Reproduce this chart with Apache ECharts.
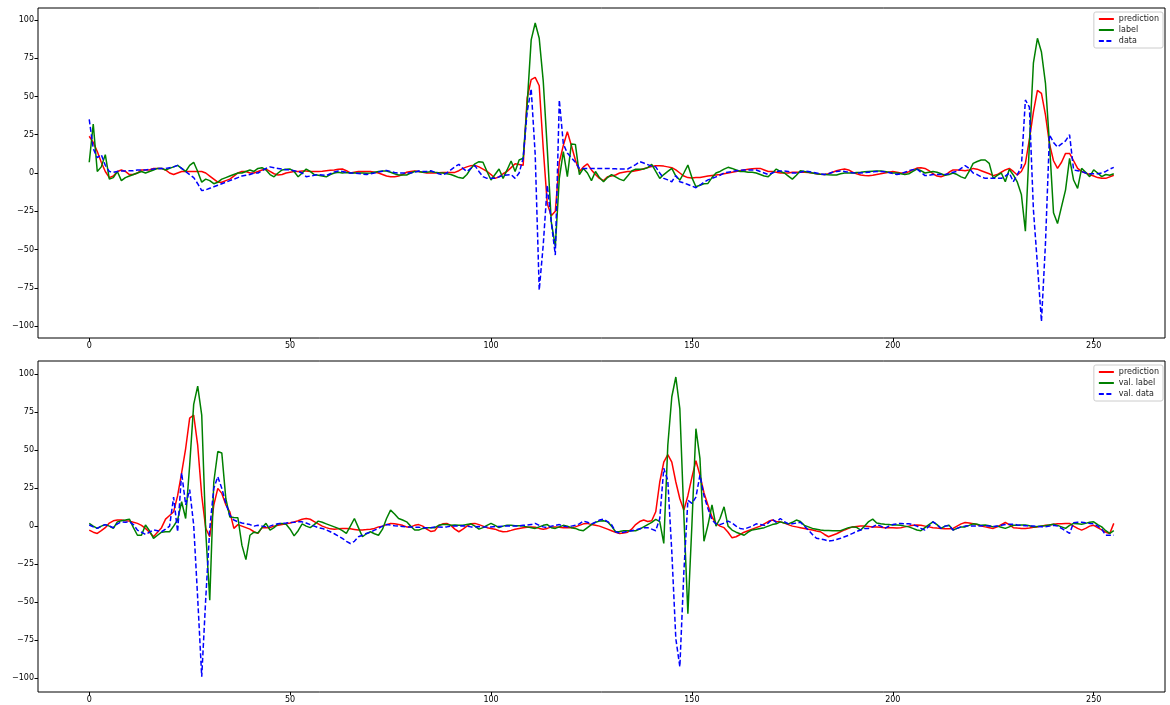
<!DOCTYPE html>
<html>
<head>
<meta charset="utf-8">
<script src="https://cdn.jsdelivr.net/npm/echarts@6/dist/echarts.min.js"></script>
<style>
  html, body { margin: 0; padding: 0; background: #fff; }
  #chart { width: 1170px; height: 705px; }
</style>
</head>
<body>
<div id="chart"></div>
<script>
// 训练集 (上图)
var topPred = [
  24, 20, 14, 7, 1, -3, -2, 1, 2, 1,
  -1, -1, 0, 2, 2, 2, 3, 3, 3, 2,
  0, -1, 0, 1, 1, 1, 1, 1, 1, 0,
  -2, -4, -6, -6, -5, -4, -2, 0, 1, 1,
  0, 0, 1, 2, 2.5, 1, -0.5, -1.3, -1, 0,
  0.5, 1, 1, 1.3, 1.3, 1, 1, 1, 1.2, 1.5,
  1.8, 2, 2.5, 2.6, 1.5, 0, 0.5, 1, 1, 1,
  1, 0.5, 0, -1, -2, -2.5, -2.5, -2, -1, 0.5,
  1, 1.3, 1, 0.5, 0, 0, 0, 0.2, 0.4, 0.4,
  0.4, 0.4, 1.5, 3, 4, 4.8, 5, 4, 2.5, 1,
  -1, -3.5, -2.5, -0.5, 1, 3.5, 6, 5.5, 5, 49,
  61, 62.5, 57, 16, -20, -28, -25, 7, 18, 27,
  18, 8.5, 1, 4, 6, 2, -1, -3.5, -5, -2.4,
  -2, -1.3, 0, 0.5, 1, 1, 1.5, 2, 2.8, 3.5,
  4.2, 4.8, 4.8, 4.5, 4, 3.5, 2, 0, -2, -3,
  -3.2, -3, -3, -2.5, -2, -1.6, -1.3, -1, -0.5, 0,
  0.5, 1, 1.5, 2, 2.5, 2.8, 3, 3, 2, 1,
  1, 0.5, 0, 0, 0, 0.5, 0.5, 0.5, 0.5, 0.3,
  0, -0.5, -0.8, -1, -0.5, 0.5, 1.5, 2.2, 2.6, 2,
  0.5, -0.5, -1.3, -1.7, -1.8, -1.5, -1, -0.5, 0, 0.5,
  1, 0.5, 0, 0, 0.8, 2, 3.2, 3.5, 3, 1.5,
  -0.5, -2, -2.4, -1.5, 0.5, 2, 2, 1.8, 1.5, 2,
  3, 2.5, 1.5, 0.5, -0.5, -1.7, -1, 0.5, 2, 3,
  1, -1.3, 1, 6.3, 22, 40, 54, 52, 38, 19,
  8, 3, 7, 12.8, 12.8, 8, 3, 1, 0, -1,
  -2, -3, -3.5, -3.5, -2.5, -1.5
];
var topLabel = [
  7, 32, 1, 4, 12, -4, -3, 1, -5, -3,
  -2, -1, 0, 1, 0, 1, 2, 3, 3, 2,
  3, 4, 5, 3, 1, 5, 7, 1, -6, -4,
  -5, -7, -6, -4, -3, -2, -1, 0, 0, 1,
  2, 1, 3, 3.5, 2, -1, -2.5, 0, 2, 2.5,
  2.6, 1, -2.5, 0, 2.6, 1, -1, -1.5, -2, -2.5,
  -1, 0, 0.5, 0, 0.3, 0, 0, 0, 0, -0.2,
  0, 0.5, 1, 1.3, 1.3, 0.5, -0.5, -1.3, -1.3, -1.3,
  0, 1, 1, 0.5, 0.5, 0.9, 0.5, 0.2, 0, -0.5,
  -1, -2, -3, -3.5, -1, 3, 6, 7.4, 7, 1,
  -4.6, -1, 2.6, -3.5, 2, 7.8, 1, 8.5, 9.6, 45,
  87, 98, 88, 60, 16, -32, -48, -3.5, 14, -2.4,
  19, 18.7, -1, 3, 0, -5, 1, -3, -5.7, -3,
  -1, -2.5, -4, -5, -2, 1.3, 2.5, 2.5, 2.6, 3.5,
  5.7, 1, -3.5, -1, 1, 3, -2, -4.6, 0, 5.2,
  -3, -9, -8, -7, -6.8, -3, 0, 1, 2.5, 3.7,
  3, 2, 1, 1, 0.5, 0.5, 0, -1, -2, -2.4,
  0, 2.6, 1, 0, -2, -4, -1.5, 1.5, 1, 0.5,
  0, -0.5, -0.8, -1, -1.2, -1.3, -1.3, -0.5, 0, 0,
  0, 0.3, 0.5, 0.8, 1, 1.2, 1.3, 1.3, 1, 0.5,
  0, 0, -0.5, -1, -0.5, 1, 2.6, 1.5, 0, 0.5,
  1, 0.5, -0.5, -1.5, -1, 0, -1, -2.5, -3.5, 1,
  6.3, 7.5, 8.5, 8.5, 6.3, -3.5, -1.5, 0, -5.7, 2.4,
  -1.3, -6, -14, -38, 19, 72, 88, 79, 58.6, 19,
  -26, -33, -22, -11, 9.6, -4.6, -10, 3, 0.5, -2.4,
  2, 0, -2.4, -1, -1.5, -0.5
];
var topData = [
  35, 16, 10, 12, 5, 1, 0.5, 1, 1.3, 1.3,
  1.5, 1.5, 2, 2, 2, 2.3, 2.6, 3, 3, 3,
  3.5, 4, 5, 3, 1, -1, -3, -7, -11.5, -11,
  -10, -9, -8, -7, -6, -5, -4, -3, -2, -1.5,
  -1, 0, 0, 1.5, 3, 4, 3.5, 3, 2.5, 2.2,
  2, 1.5, 1, 0, -2.4, -2, -1.5, -1, -1.3, -1.7,
  -0.5, 0.7, 1.3, 1, 0.5, 0, 0, -0.3, -0.7, -1,
  -0.5, 0, 0.7, 1.2, 1.7, 1, 0.3, 0, 0, 0,
  0, 0.5, 1.3, 1, 1, 1.5, 0.5, -0.5, -1.3, 0,
  2, 4, 5.7, 3, 1, 3, 4.8, 1, -2.4, -3.5,
  -3.5, -3.5, -2.5, -1.7, -1.3, -1, -3.5, 0, 9.6, 40,
  55, 12, -76.5, -47, -8, -32, -53.6, 47.7, 19, 13,
  10, 7, 3, 3, 3, 3, 3, 3, 3, 3,
  2.8, 2.7, 2.6, 2.6, 2.6, 4, 5.5, 7.4, 6.5, 5.5,
  4.5, 4, 0, -3.5, -4.5, -5.7, -1.7, -5.7, -6.5, -7.5,
  -8.5, -9.6, -8, -6, -4.5, -3.5, -2.5, -1.5, 0, 0.5,
  1, 1.5, 1.8, 2, 2, 2, 2, 1, 0, -1,
  0, 1, 1.3, 1.3, 1, 0, 0, 0.5, 1.3, 1,
  0.5, 0, -0.5, -1, -0.5, 0.5, 1, 1.3, 1, 0.5,
  0.2, 0, 0, 0.2, 0.5, 0.8, 1, 1, 0.8, 0.3,
  -0.3, -1, -0.5, 0.5, 1.5, 2.2, 2.6, 0.5, -1.7, -1.5,
  -1, -1, -1, -1, -0.5, 0.5, 1, 3, 4.8, 3,
  0, -1, -2.5, -3.5, -3.5, -3.5, -3.5, -3.5, -2, 0,
  -5.7, -1, 4, 47.7, 43, -24, -60, -97, -46, 25,
  20, 17, 19, 21, 25, 2, 1.5, 1, 0, -0.5,
  -0.5, -0.5, 0, 1, 2.5, 3.7
];

// 验证集 (下图)
var botPred = [
  -2.6, -4, -4.8, -3, -1, 2, 3.5, 4, 4, 3.5,
  3.3, 2.5, 1.8, 0.5, -1.5, -4, -7, -4, -1, 4.6,
  7, 9.4, 20, 35, 51, 71, 73, 53, 20, -1.5,
  -7, 13.8, 24.8, 21.5, 14, 9.4, -1.5, 1, 0, -1,
  -2, -3.7, -4.8, -1, -1, -1, 0, 0.5, 1, 1.5,
  2, 2.8, 3.5, 4.5, 5, 4.5, 3, 1.5, 0, -1,
  -1.8, -2, -1.8, -1.5, -1.5, -1.8, -2.2, -2.6, -2.5, -2.3,
  -2, -1.5, -0.5, 0, 1, 1.8, 1.5, 1, 0.5, -0.5,
  -0.5, 0.5, 1, 0, -2, -3.5, -3, 0.5, 1.5, 1.8,
  0.5, -2, -3.7, -2, 0, 1.5, 1.8, 1, 0, -1,
  -1.5, -2, -3, -3.7, -3.5, -2.8, -2, -1.5, -1, -0.8,
  -0.5, -0.7, -1.5, -2, -1.5, -0.5, -0.5, -0.7, -1, -1,
  -1, -0.5, 0.5, 1.5, 1.8, 1, 0.5, 0, -1, -2,
  -3, -4, -4.8, -4.5, -4, -2, 1, 3, 4, 3,
  3.5, 9.4, 29, 42, 47, 42, 29, 18, 10.5, 20,
  32, 43, 33.5, 22, 13.8, 6, 1.8, 0, -1, -4,
  -7.7, -7, -5.5, -4, -3, -2, -1, 0, 1.5, 3,
  4, 3, 2.8, 2, 1, 0, -0.5, -1, -1.5, -2,
  -2.6, -3.2, -3.7, -5.5, -7, -6, -5, -3.7, -2.5, -1.5,
  -0.5, -0.2, 0, 0, -0.2, -0.5, -0.5, -0.7, -1, -1,
  -1, -1.2, -1, -0.5, 0, 0.5, 0.7, 0.5, 0, -0.5,
  -1, -1.3, -1.5, -1.7, -1.7, -1.5, 0, 1.5, 2.4, 2,
  1.5, 1, 0, -0.5, -1, -1.5, -0.5, 1, 2.4, 1,
  -1, -1.3, -1.5, -1.5, -1.2, -0.8, -0.5, 0, 0.5, 0.8,
  1.3, 1.5, 1.6, 1.7, 1.8, 0, -1.5, -2.6, -1.5, 0,
  0.5, -1, -2.5, -4, -4.8, 1.8
];
var botLabel = [
  1.8, 0, -1.5, 0, 1, 0, -1.5, 2.8, 3.5, 4,
  4.6, -1, -6, -6, 0.7, -3, -8, -6, -4, -3.7,
  -3.7, 0, 4, 16, 5, 40, 80, 92, 73, -3.7,
  -48.7, 29, 49, 48, 18, 6, 5.7, 5.5, -12.5, -22,
  -6, -4, -4.5, -1, 1.8, -2.6, -1, 1.5, 1.8, 1.2,
  -2, -6.4, -3, 1.5, 0, -1, 1, 3.3, 2.5, 1.5,
  0.5, -0.5, -1.5, -3, -4.8, 0, 5, -1, -7, -5,
  -3.7, -5, -6, -2, 5, 10.5, 8, 5, 4, 2.8,
  0, -2.6, -2.6, -1.5, -1, -1, -1, 0.5, 1, 1,
  0.5, 0.7, 0.5, 0.5, 1, 1.5, 0, -2, -1, 0.5,
  1.8, 0.5, -1, 0, 0.5, 0.5, 0.3, 0.2, 0, -0.5,
  -1, -1.5, -0.5, 0.5, 1, -1, -1.5, -0.5, 0.5, 0,
  -1, -1.5, -2.5, -3, -1, 1, 2.5, 3.3, 3.5, 2.8,
  0, -3.7, -3.5, -3, -3, -3, -3, -2, -0.5, 1,
  2.5, 4.4, 3, -11.4, 53, 85, 98, 77, 7, -57.5,
  0.7, 64, 44.5, -10, 0.7, 14, 0, 5, 12.7, 0,
  -2.6, -4, -5, -6, -4, -2.5, -2, -1.5, -1, 0,
  1, 1.5, 2.8, 2, 1.5, 2.5, 4, 3, 0.5, -0.5,
  -1.5, -2, -2.6, -2.8, -2.8, -3, -3, -3, -2, -1,
  -0.5, -0.8, -2.6, 0, 3, 4.6, 2, 1.5, 1.2, 1,
  0.8, 0.7, 0.5, 0, -0.5, -1.5, -2.5, -3, -1, 1,
  2.8, 1, -1.5, 0, 0.5, -2.5, -1.5, -0.5, -0.5, 0.5,
  1.5, 1.2, 0.5, 0.7, 0.2, -0.5, 0, -0.7, -1.5, -0.5,
  0.5, 0.5, 0.7, 0.7, 0.2, -0.5, -0.2, 0, 0.2, 0.8,
  1.3, 0.5, -0.5, -1.5, 0.5, 1.8, 1.5, 1.2, 1.8, 2.5,
  2.8, 1, -0.5, -3, -4.8, -3
];
var botData = [
  0.7, -0.5, -1.5, 0, 1, 0, -1, 1.5, 2.8, 2.5,
  2.8, 1, -2.6, -4, -5.5, -4, -2.5, -3, -3.7, -2,
  0, 19, -3.7, 35, 14, 24, 0.7, -47.6, -99, -47.6,
  -1.5, 24.8, 32.5, 24.8, 15, 7.2, 4, 2.8, 2, 1.5,
  1, 0, 0.5, 0, -0.5, 0, 1, 1.5, 1.8, 2,
  2.3, 2.5, 2.8, 2.8, 2, 1, 0, -1, -1.5, -2.5,
  -3.7, -5, -6.5, -8, -10, -11.4, -10, -7, -6, -4.8,
  -4, -2.6, -1.5, 0, 1, 0.7, 0.3, 0, -0.3, -0.5,
  -0.5, -0.7, -0.7, -1, -1, -1, -0.5, -0.5, -0.7, -0.5,
  0, 0, 0, 0.3, 0, -0.5, -0.5, -0.3, -0.5, -0.5,
  -0.5, -0.3, -0.2, 0, 0, 0, 0, 0.2, 0.5, 0.7,
  1, 1.8, 0.5, -0.5, -1, 0, 0.5, 1, 0, -0.5,
  0, 0.5, 1.5, 3.3, 2.5, 1.5, 2.5, 4, 4.6, 3,
  1, -3.7, -4.5, -4, -3.5, -3, -2.5, -1.7, -1, -1,
  -2, -3, 5, 38, 30, -17, -74, -92.5, -30, 17,
  15, 19, 33.5, 20, 11.6, 4, 1.5, 1, 2, 3.3,
  2, 0, -1.5, -2, -1, 0, 1.5, 1, 0.5, 2,
  4.6, 2.5, 5, 3, 1.5, 1.5, 2, 2.5, 0, -2.6,
  -5.5, -8, -8.5, -9, -9.9, -9.5, -8.8, -8, -7, -6,
  -4.8, -3.5, -2.5, -1.5, -1.5, -0.5, 1, 0, -1.5, 0,
  1, 1.5, 1.8, 1.5, 1.5, 1, 0, -1.5, -2.6, 0,
  2.8, 1, -1.5, 0, 0.5, -2.5, -1.5, -0.5, 0, 0.2,
  0, 0, 0.2, 0.2, 0, -0.3, 0, 0.5, 1, 1.2,
  1.3, 0.8, 0.5, 0.3, 0.2, 0, -0.2, -0.4, -0.4, 0,
  0.5, 0, -1.5, -3, -4.8, 2.2, 2.5, 2.5, 2.2, 1.8,
  1.5, 0, -2, -6, -6, -6
];

var xTicks = [0, 50, 100, 150, 200, 250];
var yTicks = [-100, -75, -50, -25, 0, 25, 50, 75, 100];

(function () {
    var myChart = echarts.init(document.getElementById('chart'));

    function pts(arr) {
        return arr.map(function (v, i) { return [i, v]; });
    }
    function minus(v) {
        return String(v).replace('-', '\u2212');
    }

    var font = 'DejaVu Sans';
    function xAxis(idx) {
        return {
            type: 'value', gridIndex: idx, min: -12.75, max: 267.75,
            axisLine: { show: false, onZero: false },
            splitLine: { show: false },
            axisTick: { show: true, length: 3.5, customValues: xTicks, lineStyle: { color: '#000' } },
            axisLabel: { customValues: xTicks, fontSize: 8, color: '#000', margin: 4, fontFamily: font }
        };
    }
    function yAxis(idx, lo, hi) {
        return {
            type: 'value', gridIndex: idx, min: lo, max: hi,
            axisLine: { show: false, onZero: false },
            splitLine: { show: false },
            axisTick: { show: true, length: 3.5, customValues: yTicks, lineStyle: { color: '#000' } },
            axisLabel: { customValues: yTicks, fontSize: 8, color: '#000', margin: 4, fontFamily: font, formatter: minus }
        };
    }
    function legend(names, top) {
        return {
            data: names,
            orient: 'vertical',
            right: 7,
            top: top,
            itemWidth: 15,
            itemHeight: 9,
            itemGap: 3,
            padding: [3, 4, 3, 4],
            backgroundColor: 'rgba(255,255,255,0.8)',
            borderColor: '#cccccc',
            borderWidth: 1,
            borderRadius: 2,
            itemStyle: { opacity: 0 },
            textStyle: { fontSize: 8, color: '#222', fontFamily: font }
        };
    }
    function line(name, arr, idx, color, dashed) {
        return {
            name: name, type: 'line', xAxisIndex: idx, yAxisIndex: idx,
            data: pts(arr), symbol: 'none', smooth: false,
            lineStyle: { color: color, width: 1.5, type: dashed ? [5, 2.5] : 'solid' },
            itemStyle: { color: color }
        };
    }

    var option = {
        animation: false,
        backgroundColor: '#fff',
        grid: [
            { left: 38, right: 5, top: 8, height: 330, show: true, borderColor: '#000', borderWidth: 1 },
            { left: 38, right: 5, top: 361, height: 331, show: true, borderColor: '#000', borderWidth: 1 }
        ],
        xAxis: [xAxis(0), xAxis(1)],
        yAxis: [yAxis(0, -107.8, 107.8), yAxis(1, -109, 108.5)],
        legend: [
            legend(['prediction', 'label', 'data'], 12),
            legend(['prediction', 'val. label', 'val. data'], 365)
        ],
        series: [
            line('prediction', topPred, 0, '#ff0000', false),
            line('label', topLabel, 0, '#008000', false),
            line('data', topData, 0, '#0000ff', true),
            line('prediction', botPred, 1, '#ff0000', false),
            line('val. label', botLabel, 1, '#008000', false),
            line('val. data', botData, 1, '#0000ff', true)
        ]
    };

    myChart.setOption(option);
    window.addEventListener('resize', function () {
        myChart.resize();
    });
})();
</script>
</body>
</html>
